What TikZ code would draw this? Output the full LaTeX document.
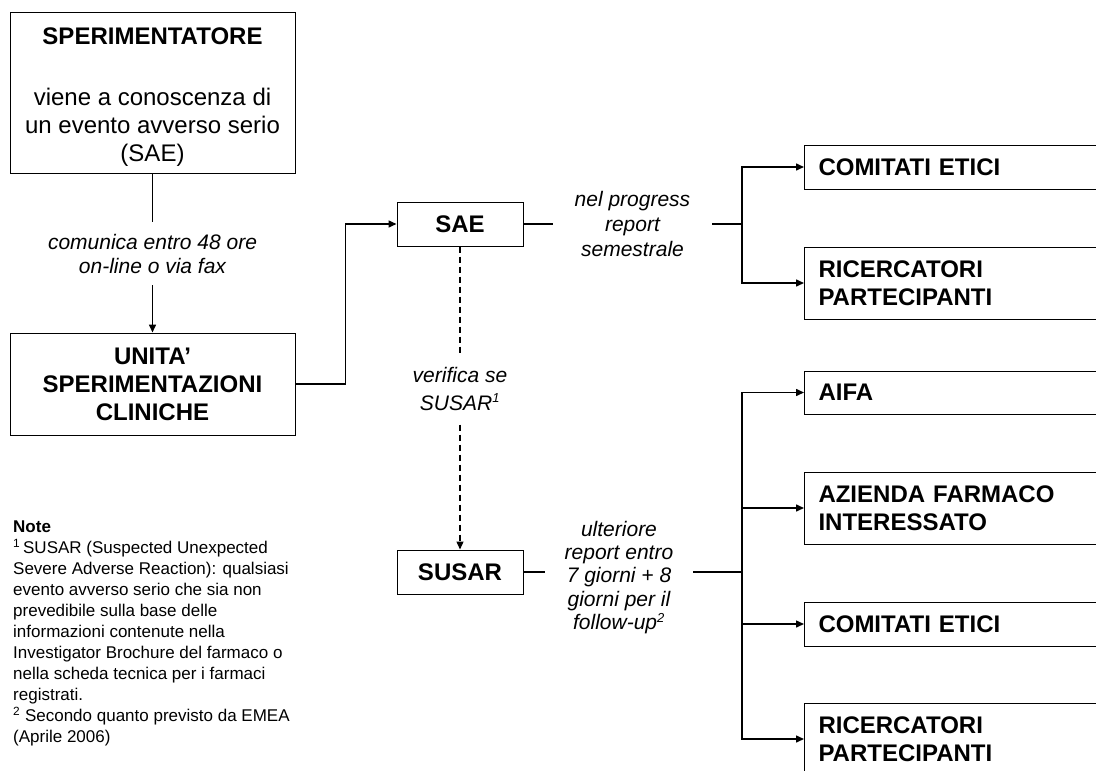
\documentclass[tikz,border=0pt]{standalone}
\usepackage{fontspec}
\setmainfont{Liberation Sans}
\usetikzlibrary{arrows.meta}
\begin{document}
\begin{tikzpicture}[x=1pt,y=-1pt,
  bigbox/.style={draw=black, line width=1pt, inner sep=0pt, align=center,
    font=\fontsize{24}{28}\selectfont},
  rbox/.style={draw=black, line width=1pt, anchor=west, inner xsep=14pt, inner ysep=0pt,
    text width=292pt, align=left, font=\fontsize{24}{27.5}\selectfont\bfseries},
  lab/.style={inner sep=0pt, align=center, font=\fontsize{21}{24}\selectfont\itshape},
  conn/.style={line width=1.5pt, draw=black},
  arr/.style={conn, -{Triangle[length=8pt,width=7pt]}},
  dsh/.style={line width=1.3pt, draw=black, dash pattern=on 6pt off 4pt},
  darr/.style={dsh, -{Triangle[length=8pt,width=7pt]}},
  notes/.style={inner sep=0pt, anchor=north west, align=left,
    font=\fontsize{17}{21}\selectfont}
]
\useasboundingbox (0,0) rectangle (1096,771);
\clip (0,0) rectangle (1096,771);

% left column
\node[bigbox, minimum width=285pt, minimum height=161pt] (sper) at (152.5,92.5)
  {\rule{0pt}{25pt}{\bfseries SPERIMENTATORE}\\[33pt]viene a conoscenza di\\un evento avverso serio\\(SAE)};
\node[bigbox, minimum width=285pt, minimum height=102pt, font=\fontsize{24}{28}\selectfont\bfseries] (unita) at (152.5,384)
  {UNITA’\\SPERIMENTAZIONI\\CLINICHE};
\node[lab, minimum height=63pt] (lab0) at (152.5,253.5) {comunica entro 48 ore\\on-line o via fax};

% middle column
\node[bigbox, minimum width=126pt, minimum height=44pt, font=\fontsize{24}{27.5}\selectfont\bfseries] (sae) at (460,224) {SAE};
\node[bigbox, minimum width=126pt, minimum height=44pt, font=\fontsize{24}{27.5}\selectfont\bfseries] (susar) at (460,572) {SUSAR};
\node[lab, minimum width=159pt, font=\fontsize{21}{25}\selectfont\itshape] (lab1) at (632.5,224) {nel progress\\report\\semestrale};
\node[lab, minimum height=71pt, font=\fontsize{21}{28}\selectfont\itshape] (lab2) at (460,389) {verifica se\\SUSAR\textsuperscript{\fontsize{13}{13}\selectfont 1}};
\node[lab, minimum width=148pt, font=\fontsize{21}{23.3}\selectfont\itshape] (lab3) at (619,577.5) {ulteriore\\report entro\\7 giorni + 8\\giorni per il\\follow-up\textsuperscript{\fontsize{13}{13}\selectfont 2}};

% right column
\node[rbox, minimum height=44pt] (ce1) at (804,167) {COMITATI ETICI};
\node[rbox, minimum height=72pt] (ric1) at (804,283) {RICERCATORI\\PARTECIPANTI};
\node[rbox, minimum height=43pt] (aifa) at (804,392.5) {AIFA};
\node[rbox, minimum height=72pt] (az) at (804,508) {AZIENDA FARMACO\\INTERESSATO};
\node[rbox, minimum height=44pt] (ce2) at (804,624) {COMITATI ETICI};
\node[rbox, minimum height=72pt] (ric2) at (804,739) {RICERCATORI\\PARTECIPANTI};

\coordinate (j1) at (742,224);
\coordinate (j2) at (742,572);

% notes
\node[notes] (note) at (13,521)
  {{\bfseries Note}\\
  \textsuperscript{1}\,SUSAR (Suspected Unexpected\\
  Severe Adverse Reaction): qualsiasi\\
  evento avverso serio che sia non\\
  prevedibile sulla base delle\\
  informazioni contenute nella\\
  Investigator Brochure del farmaco o\\
  nella scheda tecnica per i farmaci\\
  registrati.\\
  \textsuperscript{2} Secondo quanto previsto da EMEA\\
  (Aprile 2006)};

% connectors
\draw[conn] (sper) -- (lab0);
\draw[arr] (lab0) -- (unita);
\draw[arr] (unita.east) -- ++(50,0) |- (sae.west);
\draw[conn] (sae) -- (lab1);
\draw[conn] (lab1) -- (j1);
\draw[arr] (j1) |- (ce1.west);
\draw[arr] (j1) |- (ric1.west);
\draw[dsh] (sae) -- (lab2);
\draw[darr] (lab2) -- (susar);
\draw[conn] (susar.east) -- (susar.east -| lab3.west);
\draw[conn] (j2 -| lab3.east) -- (j2);
\draw[arr] (j2) |- (aifa.west);
\draw[arr] (j2) |- (az.west);
\draw[arr] (j2) |- (ce2.west);
\draw[arr] (j2) |- (ric2.west);
\end{tikzpicture}
\end{document}
